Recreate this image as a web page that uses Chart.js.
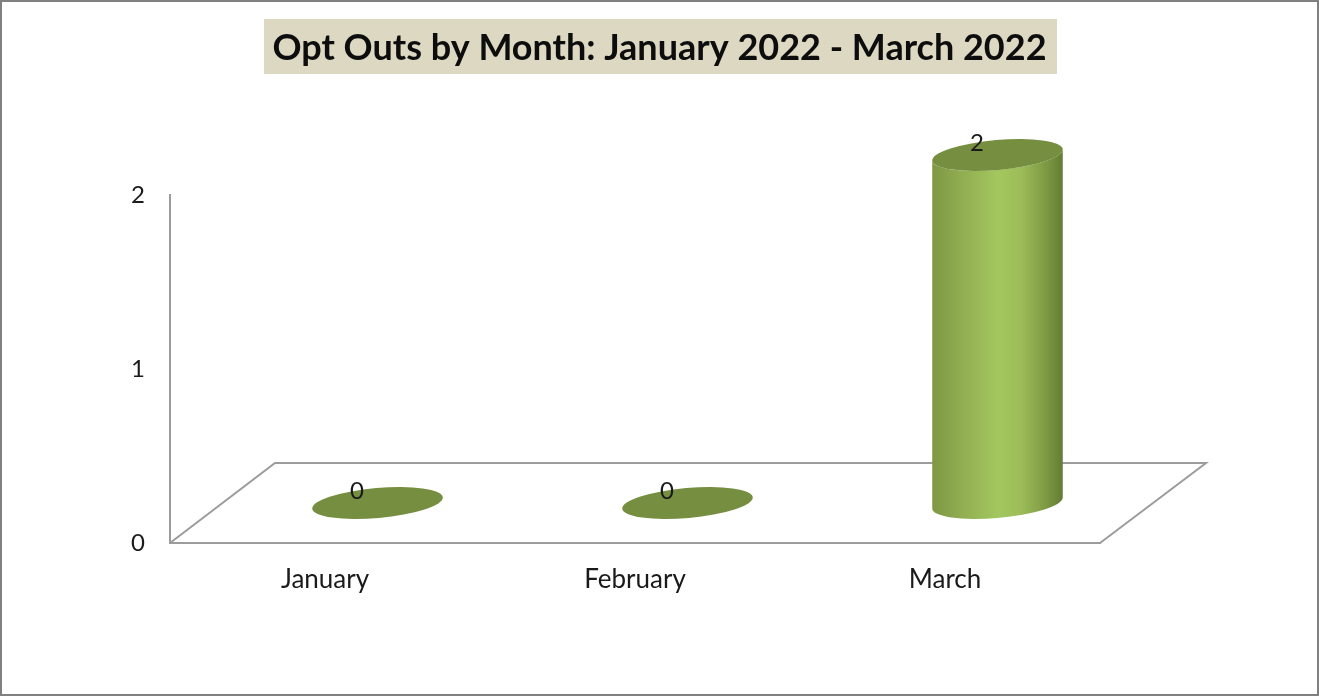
<!DOCTYPE html>
<html><head><meta charset="utf-8">
<script src="https://cdn.jsdelivr.net/npm/chart.js@4"></script>
<style>html,body{margin:0;padding:0;background:#fff;overflow:hidden}canvas{display:block}</style>
</head><body><canvas id="c" width="1319" height="696"></canvas>
<script>
const titleText = 'Opt Outs by Month: January 2022 - March 2022';
const categories = ['January', 'February', 'March'];
const optOuts = [0, 0, 2];
const yTicks = [0, 1, 2];

const FONT = 'Lato, Carlito, "Open Sans", sans-serif';
const DEPTH_X = 105, DEPTH_Y = -80, CYL_DX = 52.5, CYL_DY = -40;
const RX = 65.5, RY = 15, TILT = -5 * Math.PI / 180;

function cylinder(ctx, x, top, base) {
  const cx = x + CYL_DX, yT = top + CYL_DY, yB = base + CYL_DY;
  if (Math.abs(base - top) > 0.5) {
    const t0 = Math.atan2(-RY * Math.sin(TILT), RX * Math.cos(TILT));
    const ex = RX * Math.cos(t0) * Math.cos(TILT) - RY * Math.sin(t0) * Math.sin(TILT);
    const ey = RX * Math.cos(t0) * Math.sin(TILT) + RY * Math.sin(t0) * Math.cos(TILT);
    const g = ctx.createLinearGradient(cx - ex, 0, cx + ex, 0);
    g.addColorStop(0, '#7d9743');
    g.addColorStop(0.2, '#8fab50');
    g.addColorStop(0.5, '#a3c75e');
    g.addColorStop(0.68, '#9cbd59');
    g.addColorStop(0.88, '#7c9842');
    g.addColorStop(1, '#627c34');
    ctx.beginPath();
    ctx.moveTo(cx + ex, yT + ey);
    ctx.ellipse(cx, yB, RX, RY, TILT, t0, t0 + Math.PI, false);
    ctx.lineTo(cx - ex, yT - ey);
    ctx.ellipse(cx, yT, RX, RY, TILT, t0 + Math.PI, t0, true);
    ctx.closePath();
    ctx.fillStyle = g;
    ctx.fill();
  }
  ctx.beginPath();
  ctx.ellipse(cx, yT, RX, RY, TILT, 0, Math.PI * 2);
  ctx.fillStyle = '#768e40';
  ctx.fill();
}

const scene = {
  id: 'scene',
  beforeDraw(chart) {
    const { ctx, chartArea: a } = chart;
    ctx.save();
    ctx.fillStyle = '#ffffff';
    ctx.fillRect(0, 0, chart.width, chart.height);
    ctx.fillStyle = '#dcd8c2';
    ctx.fillRect(264, 19, 793, 55);
    ctx.strokeStyle = '#9c9c9c';
    ctx.lineWidth = 2;
    ctx.beginPath();
    ctx.moveTo(a.left, a.bottom);
    ctx.lineTo(a.left + DEPTH_X, a.bottom + DEPTH_Y);
    ctx.lineTo(a.right + DEPTH_X + 1, a.bottom + DEPTH_Y);
    ctx.lineTo(a.right, a.bottom);
    ctx.stroke();
    ctx.restore();
  },
  afterDatasetsDraw(chart) {
    const { ctx } = chart;
    const meta = chart.getDatasetMeta(0);
    ctx.save();
    meta.data.forEach((bar) => cylinder(ctx, bar.x, bar.y, bar.base));
    ctx.fillStyle = '#1a1a1a';
    ctx.font = '24px ' + FONT;
    ctx.textAlign = 'center';
    ctx.textBaseline = 'middle';
    meta.data.forEach((bar, i) => ctx.fillText(String(optOuts[i]), bar.x + 32, bar.y - 52));
    ctx.strokeStyle = '#808080';
    ctx.lineWidth = 2;
    ctx.strokeRect(1, 1, chart.width - 2, chart.height - 2);
    ctx.restore();
  }
};

new Chart(document.getElementById('c'), {
  type: 'bar',
  data: {
    labels: categories,
    datasets: [{ data: optOuts, backgroundColor: 'rgba(0,0,0,0)', borderWidth: 0, maxBarThickness: 130 }]
  },
  plugins: [scene],
  options: {
    responsive: false,
    animation: false,
    devicePixelRatio: 1,
    layout: { padding: 0 },
    plugins: {
      legend: { display: false },
      tooltip: { enabled: false },
      title: {
        display: true,
        text: titleText,
        color: '#0d0d0d',
        font: { family: FONT, size: 36, weight: 'bold', lineHeight: 1 },
        padding: { top: 30, bottom: 129 }
      }
    },
    scales: {
      x: {
        grid: { display: false, drawTicks: false },
        border: { display: true, color: '#9c9c9c', width: 2 },
        ticks: { color: '#1a1a1a', font: { family: FONT, size: 26 }, padding: 21, maxRotation: 0 },
        afterFit(s) { s.height = 696 - 543; }
      },
      y: {
        min: 0, max: 2,
        afterBuildTicks(s) { s.ticks = yTicks.map((v) => ({ value: v })); },
        grid: { display: false, drawTicks: false },
        border: { display: true, color: '#9c9c9c', width: 2 },
        ticks: { color: '#1a1a1a', font: { family: FONT, size: 24 }, padding: 25 },
        afterFit(s) { s.width = 170; }
      },
      yRightGutter: {
        position: 'right',
        min: 0, max: 2,
        grid: { display: false, drawTicks: false },
        border: { display: false },
        ticks: { display: false },
        afterFit(s) { s.width = 219; }
      }
    }
  }
});
</script></body></html>
